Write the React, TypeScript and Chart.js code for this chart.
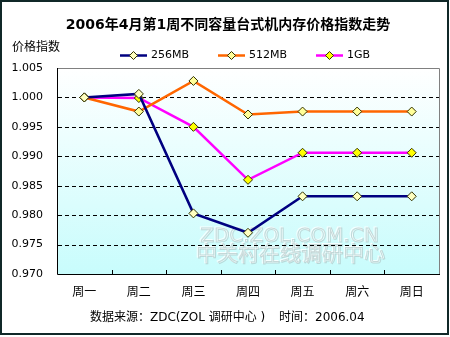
import React, { useEffect, useRef } from "react";
import { Chart, registerables } from "chart.js";

Chart.register(...registerables);

const categories = ["周一", "周二", "周三", "周四", "周五", "周六", "周日"];
const series256 = [1.0, 1.0006, 0.9803, 0.977, 0.9832, 0.9832, 0.9832];
const series512 = [1.0, 0.9976, 1.0028, 0.9971, 0.9976, 0.9976, 0.9976];
const series1G = [1.0, 0.9999, 0.995, 0.986, 0.9906, 0.9906, 0.9906];
const seriesNames = ["256MB", "512MB", "1GB"];
const yTicksMin = 0.97;
const yTicksMax = 1.005;
const yStep = 0.005;

const titleText = "2006年4月第1周不同容量台式机内存价格指数走势";
const yTitleText = "价格指数";
const footerLeft = "数据来源：ZDC(ZOL 调研中心 )";
const footerRight = "时间：2006.04";
const watermark1 = "ZDC.ZOL.COM.CN";
const watermark2 = "中关村在线调研中心";

const FONT = '"DejaVu Sans", "Noto Sans CJK SC", sans-serif';
const lineColors = ["#000080", "#ff6600", "#ff00ff"];
const markerFills = ["#ffffc0", "#ffff99", "#ffff00"];

export default function App() {
  const ref = useRef<HTMLCanvasElement>(null);
  useEffect(() => {
    const canvas = ref.current!;
    const decor = {
      id: "decor",
      beforeDraw(chart: any) {
        const { ctx, chartArea: a } = chart;
        ctx.save();
        ctx.fillStyle = "#ffffff";
        ctx.fillRect(0, 0, chart.width, chart.height);
        const g = ctx.createLinearGradient(0, a.top, 0, a.bottom);
        g.addColorStop(0, "#ffffff");
        g.addColorStop(1, "#c8fcfc");
        ctx.fillStyle = g;
        ctx.fillRect(a.left, a.top, a.right - a.left, a.bottom - a.top);
        ctx.restore();
      },
      beforeDatasetsDraw(chart: any) {
        const { ctx, chartArea: a } = chart;
        const ys = chart.scales.y;
        ctx.save();
        // watermark (embossed look)
        ctx.textAlign = "left";
        ctx.textBaseline = "middle";
        const drawWm = (t: string, x: number, y: number, size: number) => {
          ctx.font = `${size}px ${FONT}`;
          ctx.lineWidth = 1;
          ctx.strokeStyle = "rgba(255,255,255,0.8)";
          ctx.strokeText(t, x - 0.7, y - 0.7);
          ctx.strokeStyle = "rgba(160,170,170,0.45)";
          ctx.strokeText(t, x + 0.5, y + 0.5);
        };
        drawWm(watermark1, 200, 236, 20);
        drawWm(watermark2, 196, 255, 21);
        // dashed grid lines
        ctx.strokeStyle = "#000000";
        ctx.lineWidth = 1;
        ctx.setLineDash([4, 3]);
        ys.ticks.forEach((t: any) => {
          if (Math.abs(t.value - yTicksMax) < 1e-6 || Math.abs(t.value - yTicksMin) < 1e-6) return;
          const y = Math.round(ys.getPixelForValue(t.value)) + 0.5;
          ctx.beginPath();
          ctx.moveTo(a.left + 1, y);
          ctx.lineTo(a.right, y);
          ctx.stroke();
        });
        ctx.restore();
      },
      afterDraw(chart: any) {
        const { ctx, chartArea: a } = chart;
        const xs = chart.scales.x;
        ctx.save();
        // plot borders
        ctx.lineWidth = 1;
        ctx.strokeStyle = "#808080";
        ctx.beginPath();
        ctx.moveTo(a.left, a.top + 0.5);
        ctx.lineTo(a.right + 0.5, a.top + 0.5);
        ctx.lineTo(a.right + 0.5, a.bottom);
        ctx.stroke();
        ctx.strokeStyle = "#000000";
        ctx.beginPath();
        ctx.moveTo(a.left + 0.5, a.top);
        ctx.lineTo(a.left + 0.5, a.bottom + 0.5);
        ctx.lineTo(a.right + 1, a.bottom + 0.5);
        ctx.stroke();
        // inside tick marks between categories
        ctx.beginPath();
        for (let i = 0; i < categories.length - 1; i++) {
          const x = Math.round((xs.getPixelForTick(i) + xs.getPixelForTick(i + 1)) / 2) + 0.5;
          ctx.moveTo(x, a.bottom);
          ctx.lineTo(x, a.bottom - 4);
        }
        ctx.stroke();
        // title
        ctx.fillStyle = "#000000";
        ctx.textAlign = "center";
        ctx.textBaseline = "middle";
        ctx.font = `bold 14px ${FONT}`;
        ctx.fillText(titleText, 228, 25);
        // y title
        ctx.textAlign = "left";
        ctx.font = `12px ${FONT}`;
        ctx.fillText(yTitleText, 12, 48);
        // legend
        const lx = [120, 218, 316];
        chart.data.datasets.forEach((ds: any, i: number) => {
          const x0 = lx[i];
          const y = 55.5;
          ctx.strokeStyle = ds.borderColor;
          ctx.lineWidth = 2.5;
          ctx.beginPath();
          ctx.moveTo(x0, y);
          ctx.lineTo(x0 + 27, y);
          ctx.stroke();
          const cx = x0 + 13.5;
          ctx.fillStyle = ds.pointBackgroundColor;
          ctx.strokeStyle = "#333300";
          ctx.lineWidth = 1;
          ctx.beginPath();
          ctx.moveTo(cx, y - 4);
          ctx.lineTo(cx + 4, y);
          ctx.lineTo(cx, y + 4);
          ctx.lineTo(cx - 4, y);
          ctx.closePath();
          ctx.fill();
          ctx.stroke();
          ctx.fillStyle = "#000000";
          ctx.font = `11px ${FONT}`;
          ctx.textAlign = "left";
          ctx.fillText(ds.label, x0 + 31, y);
        });
        // footer
        ctx.font = `12px ${FONT}`;
        ctx.fillStyle = "#000000";
        ctx.fillText(footerLeft, 90, 318);
        ctx.fillText(footerRight, 279, 318);
        // outer border
        ctx.strokeStyle = "#102828";
        ctx.lineWidth = 2;
        ctx.strokeRect(1, 1, 447, 333);
        ctx.restore();
      },
    };

    const mk = (label: string, data: number[], i: number) => ({
      label,
      data,
      borderColor: lineColors[i],
      backgroundColor: lineColors[i],
      borderWidth: 2.5,
      pointStyle: "rectRot",
      pointRadius: 4.5,
      pointBorderWidth: 1,
      pointBorderColor: "#333300",
      pointBackgroundColor: markerFills[i],
      tension: 0,
      fill: false,
    });

    const chart = new Chart(canvas, {
      type: "line",
      data: {
        labels: categories,
        datasets: [
          mk(seriesNames[0], series256, 0),
          mk(seriesNames[1], series512, 1),
          mk(seriesNames[2], series1G, 2),
        ],
      },
      options: {
        animation: false,
        responsive: false,
        maintainAspectRatio: false,
        devicePixelRatio: 1,
        layout: { padding: { left: 0, top: 68, right: 11, bottom: 0 } },
        plugins: {
          legend: { display: false },
          title: { display: false },
          tooltip: { enabled: false },
        },
        scales: {
          x: {
            offset: true,
            grid: { display: false, drawTicks: false },
            border: { display: false },
            ticks: {
              padding: 12,
              color: "#000000",
              font: { size: 12, family: FONT },
              maxRotation: 0,
            },
            afterFit: (s: any) => {
              s.height = 63;
            },
          },
          y: {
            min: yTicksMin,
            max: yTicksMax,
            grid: { display: false, drawTicks: false },
            border: { display: false },
            ticks: {
              stepSize: yStep,
              padding: 14,
              color: "#000000",
              font: { size: 11, family: FONT },
              callback: (v: any) => Number(v).toFixed(3),
            },
            afterFit: (s: any) => {
              s.width = 57;
            },
          },
        },
      },
      plugins: [decor],
    } as any);
    return () => chart.destroy();
  }, []);

  return (
    <div style={{ position: "fixed", left: 0, top: 0, width: 450, height: 337 }}>
      <canvas ref={ref} width={450} height={337} style={{ width: 450, height: 337, display: "block" }} />
    </div>
  );
}
